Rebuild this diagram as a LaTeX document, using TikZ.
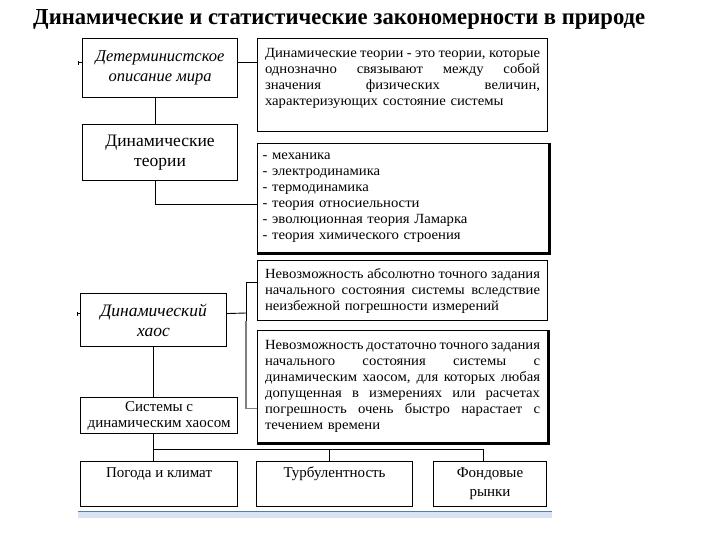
\documentclass[tikz,border=0pt]{standalone}
\usepackage{fontspec}
\setmainfont{Liberation Serif}
\newfontfamily\bodyfont[FakeStretch=1.05]{Liberation Serif}
\usepackage{graphicx}
\newcommand{\jl}[1]{{\spaceskip=.18em plus 1fil\xspaceskip=.18em plus 1fil\makebox[275pt][s]{#1}}}
\definecolor{bandblue}{HTML}{D8E4F4}
\definecolor{lineblue}{HTML}{5B7FA3}
\begin{document}
\begin{tikzpicture}[x=1pt,y=-1pt,
  box/.style={draw, line width=1.1pt, inner sep=0pt, anchor=north west, align=center},
  bigtxt/.style={font=\fontsize{16.5}{20}\selectfont},
  hugetxt/.style={font=\fontsize{17.5}{20}\selectfont},
  bodytxt/.style={font=\bodyfont\fontsize{14}{16}\selectfont},
  midtxt/.style={font=\fontsize{15}{16}\selectfont},
  conn/.style={draw, line width=0.9pt},
  shadowline/.style={line width=2pt}]
\path[use as bounding box] (0,0) rectangle (720,540);
% title
\node[anchor=base west, inner sep=0pt] (title) at (33,25)
  {\resizebox{612pt}{15pt}{\bfseries Динамические и статистические закономерности в природе}};
% left column
\node[box, bigtxt, minimum width=155pt, minimum height=59pt] (b1) at (82,38)
  {\itshape Детерминистское\\\itshape описание мира};
\node[box, hugetxt, minimum width=155pt, minimum height=56pt] (b2) at (82,124)
  {Динамические\\теории};
\node[box, hugetxt, minimum width=146pt, minimum height=53pt] (b5) at (80,293)
  {\itshape Динамический\\\itshape хаос};
\node[box, midtxt, minimum width=157pt, minimum height=36pt] (b8) at (80,397)
  {Системы с\\динамическим хаосом};
% right column
\node[box, bodytxt, minimum width=290pt, minimum height=93pt, text width=275pt, align=left] (b3) at (257,38)
  {\jl{Динамические теории - это теории, которые}\\
   \jl{однозначно связывают между собой}\\
   \jl{значения физических величин,}\\
   характеризующих состояние системы\\
   \mbox{}};
\node[box, bodytxt, minimum width=291pt, minimum height=109pt, text width=281pt, align=left] (b4) at (257,143)
  {- механика\\
   - электродинамика\\
   - термодинамика\\
   - теория относиельности\\
   - эволюционная теория Ламарка\\
   - теория химического строения};
\node[box, bodytxt, minimum width=290pt, minimum height=60pt, text width=275pt, align=left] (b6) at (257,260)
  {\jl{Невозможность абсолютно точного задания}\\
   \jl{начального состояния системы вследствие}\\
   неизбежной погрешности измерений};
\node[box, bodytxt, minimum width=290pt, minimum height=112pt, text width=275pt, align=left] (b7) at (257,330)
  {\jl{Невозможность достаточно точного задания}\\
   \jl{начального состояния системы с}\\
   \jl{динамическим хаосом, для которых любая}\\
   \jl{допущенная в измерениях или расчетах}\\
   \jl{погрешность очень быстро нарастает с}\\
   течением времени};
% bottom row
\node[box, midtxt, minimum width=157pt, minimum height=45pt] (b9) at (80,461)
  {\strut Погода и климат\\[4pt]\strut};
\node[box, midtxt, minimum width=156pt, minimum height=45pt] (b10) at (256,461)
  {\strut Турбулентность\\[4pt]\strut};
\node[box, midtxt, minimum width=113pt, minimum height=45pt] (b11) at (433,461)
  {\strut Фондовые\\[3pt]\strut рынки};
% shadows
\draw[shadowline] ([xshift=0.8pt]b4.north east) -- ([xshift=0.8pt,yshift=-0.8pt]b4.south east) -- ([yshift=-0.8pt]b4.south west);
\draw[shadowline] ([xshift=0.8pt]b7.north east) -- ([xshift=0.8pt,yshift=-0.8pt]b7.south east) -- ([yshift=-0.8pt]b7.south west);
% connectors
\draw[conn] ([yshift=5.5]b1.east) -- ([yshift=5.5]b1.east -| b3.west);
\draw[conn] ([xshift=-4.5]b1.south) -- ([xshift=-4.5]b2.north);
\draw[conn] ([xshift=-5]b2.south) |- ([yshift=-6.5]b4.west);
\coordinate (j) at (246,313);
\draw[conn] ([yshift=6.5]b5.east) -- (j);
\draw[conn] (j) |- ([yshift=8]b6.west);
\draw[conn] (j) -- (j |- b6.south);
\draw[draw=gray, line width=1.6pt] (j |- b6.south) |- ([yshift=-22]b7.west);
\draw[conn] (b5.south) -- (b5.south |- b8.north);
\coordinate (bus) at (153,449);
\draw[conn] ([xshift=-5.5]b8.south) -- ([xshift=-5.5]b9.north);
\draw[conn] (bus) -| ([xshift=-6.5]b11.north);
\draw[conn] ([xshift=-5]b10.north) -- ([xshift=-5]b10.north |- bus);
% small stubs
\draw[line width=0.6pt] ([yshift=5.5]b1.west) -- ++(-4,0) ++(0,-2) -- ++(0,4);
\draw[line width=0.6pt] ([yshift=6.5]b5.west) -- ++(-3,0) ++(0,-2) -- ++(0,4);
% bottom band
\fill[bandblue] (78,511) rectangle (552,518);
\draw[lineblue, line width=1pt] (78,511) -- (552,511);
\end{tikzpicture}
\end{document}
